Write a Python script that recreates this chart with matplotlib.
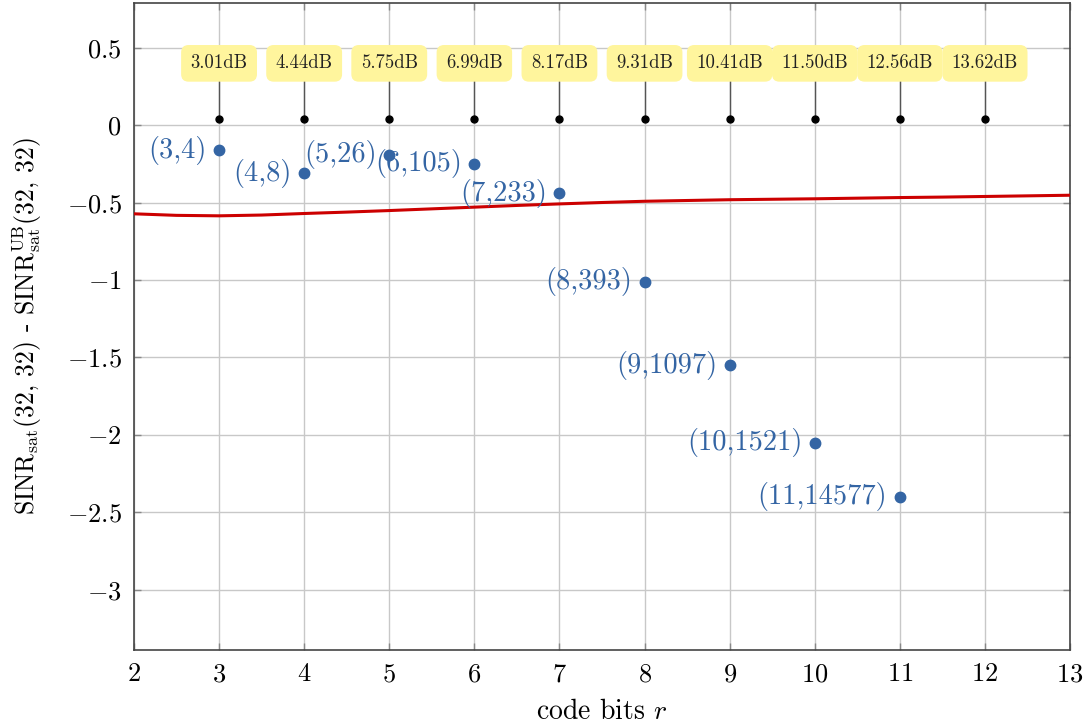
import matplotlib
matplotlib.use("Agg")
import matplotlib.pyplot as plt
from matplotlib.ticker import FuncFormatter

plt.rcParams["font.family"] = "serif"
plt.rcParams["font.serif"] = ["cmr10"]
plt.rcParams["mathtext.fontset"] = "cm"
plt.rcParams["axes.formatter.use_mathtext"] = True

# Simulated (r, number of codes) results
code_bits = [3, 4, 5, 6, 7, 8, 9, 10, 11]
code_counts = [4, 8, 26, 105, 233, 393, 1097, 1521, 14577]
sinr_gap = [-0.16, -0.31, -0.19, -0.25, -0.44, -1.01, -1.55, -2.05, -2.40]

# Upper-bound curve samples
curve_r = [2.0, 2.5, 3.0, 3.5, 4.0, 4.5, 5.0, 5.5, 6.0, 6.5, 7.0, 7.5, 8.0,
           8.5, 9.0, 9.5, 10.0, 10.5, 11.0, 11.5, 12.0, 12.5, 13.0]
curve_gap = [-0.572, -0.582, -0.585, -0.580, -0.570, -0.561, -0.551, -0.540,
             -0.529, -0.518, -0.508, -0.499, -0.491, -0.486, -0.481, -0.478,
             -0.475, -0.471, -0.467, -0.464, -0.460, -0.456, -0.452]

# Gain annotations per r
gain_r = [3, 4, 5, 6, 7, 8, 9, 10, 11, 12]
gain_db = ["3.01dB", "4.44dB", "5.75dB", "6.99dB", "8.17dB", "9.31dB",
           "10.41dB", "11.50dB", "12.56dB", "13.62dB"]
gain_base = 0.04
gain_label_y = 0.40

x_ticks = [2, 3, 4, 5, 6, 7, 8, 9, 10, 11, 12, 13]
y_ticks = [0.5, 0, -0.5, -1, -1.5, -2, -2.5, -3]

blue = "#3465a4"
red = "#cc0000"

fig = plt.figure(figsize=(10.9, 7.27), dpi=100)
ax = fig.add_axes([0.1229, 0.1059, 0.8588, 0.8900])

ax.set_xlim(2, 13)
ax.set_ylim(-3.39, 0.79)
ax.set_xticks(x_ticks)
ax.set_yticks(y_ticks)
ax.xaxis.set_major_formatter(FuncFormatter(lambda v, p: f"${v:g}$"))
ax.yaxis.set_major_formatter(FuncFormatter(lambda v, p: f"${v:g}$"))
ax.grid(True, color="#c8c8c8", linewidth=1.0)
ax.set_axisbelow(True)
ax.tick_params(direction="in", length=5, width=1, color="#888888",
               labelsize=19, top=True, right=True, pad=9)
for s in ax.spines.values():
    s.set_color("#444444")
    s.set_linewidth(1.2)

ax.plot(curve_r, curve_gap, color=red, linewidth=2.2, zorder=3)

ax.plot(code_bits, sinr_gap, "o", color=blue, markersize=7.5, zorder=4)
for r, n, v in zip(code_bits, code_counts, sinr_gap):
    ax.annotate(f"({r},{n})", (r, v), xytext=(-9, 0), textcoords="offset points",
                ha="right", va="center", color=blue, fontsize=20.5, zorder=5)

for r, t in zip(gain_r, gain_db):
    ax.plot([r, r], [gain_base, gain_label_y], color="#555555", linewidth=1.0, zorder=3)
    ax.plot(r, gain_base, "o", color="black", markersize=5, zorder=4)
    ax.text(r, gain_label_y, t, ha="center", va="center", fontsize=13.5, zorder=6,
            color="#222222",
            bbox=dict(boxstyle="round,pad=0.5,rounding_size=0.4",
                      facecolor="#fff59d", edgecolor="none"))

ax.set_xlabel("code bits $r$", fontsize=20, labelpad=9)
ax.set_ylabel(r"SINR$_{\mathrm{sat}}$(32, 32) - SINR$_{\mathrm{sat}}^{\mathrm{UB}}$(32, 32)",
              fontsize=18.5, labelpad=16)

fig.savefig("out.png", dpi=100)
